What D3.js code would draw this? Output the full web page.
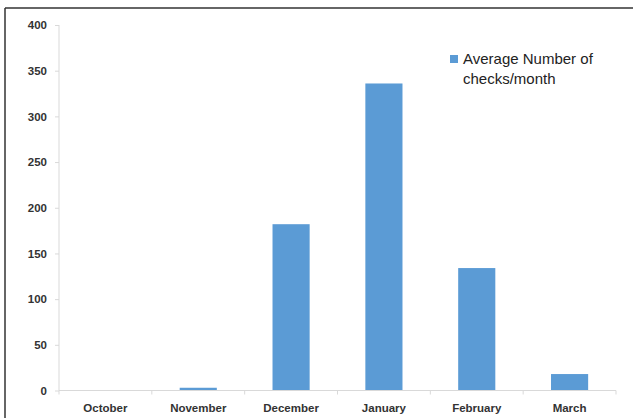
<!DOCTYPE html>
<html><head><meta charset="utf-8">
<script src="https://cdn.jsdelivr.net/npm/d3@7"></script>
<style>html,body{margin:0;padding:0;background:#fff;}svg{display:block;}</style>
</head><body>
<script>
const categories = ["October","November","December","January","February","March"];
const values = [0, 3, 182, 336, 134, 18];
const yTicks = [0,50,100,150,200,250,300,350,400];
const seriesName = ["Average Number of", "checks/month"];

const W = 633, H = 418;
const svg = d3.select("body").append("svg").attr("width", W).attr("height", H);
const font = "'Liberation Sans', Arial, sans-serif";

// frame
svg.append("line").attr("x1",5).attr("x2",W).attr("y1",8).attr("y2",8).attr("stroke","#333").attr("stroke-width",1.5);
svg.append("line").attr("x1",5).attr("x2",5).attr("y1",8).attr("y2",H).attr("stroke","#333").attr("stroke-width",1.5);

const x = d3.scaleBand().domain(categories).range([59, 616]).paddingInner(0.6).paddingOuter(0.3);
const y = d3.scaleLinear().domain([0, 400]).range([390.5, 25]);

const xEdges = d3.scaleLinear().domain([0, categories.length]).range([59, 616]);

// bars
svg.append("g").selectAll("rect").data(values).join("rect")
  .attr("x", (d,i) => x(categories[i]))
  .attr("width", x.bandwidth())
  .attr("y", d => y(d))
  .attr("height", d => y(0) - y(d))
  .attr("fill", "#5b9bd5");

// y axis
const gy = svg.append("g").attr("transform","translate(59,0)")
  .call(d3.axisLeft(y).tickValues(yTicks).tickSize(4).tickPadding(8));
gy.select(".domain").attr("stroke","#d9d9d9").attr("d","M0,25V390.5");
gy.selectAll(".tick line").attr("stroke","#d9d9d9");
gy.selectAll("text").attr("font-family",font).attr("font-size","11.5px").attr("fill","#333").attr("font-weight","bold");

// x axis
const gx = svg.append("g").attr("transform","translate(0,390.5)");
gx.append("line").attr("x1",59).attr("x2",616).attr("stroke","#d9d9d9");
gx.selectAll(".tk").data(d3.range(categories.length+1)).join("line")
  .attr("x1", i => xEdges(i)).attr("x2", i => xEdges(i)).attr("y1",0).attr("y2",4).attr("stroke","#d9d9d9");
gx.selectAll("text").data(categories).join("text")
  .attr("x", d => x(d) + x.bandwidth()/2).attr("y", 21)
  .attr("text-anchor","middle").attr("font-family",font).attr("font-size","11.5px")
  .attr("font-weight","bold").attr("fill","#333").text(d => d);

// legend
const lg = svg.append("g");
lg.append("rect").attr("x",450).attr("y",55).attr("width",8).attr("height",8).attr("fill","#5b9bd5");
lg.selectAll("text").data(seriesName).join("text")
  .attr("x",463).attr("y",(d,i)=> 64 + i*20)
  .attr("font-family",font).attr("font-size","15px").attr("fill","#222").text(d=>d);
</script>
</body></html>
